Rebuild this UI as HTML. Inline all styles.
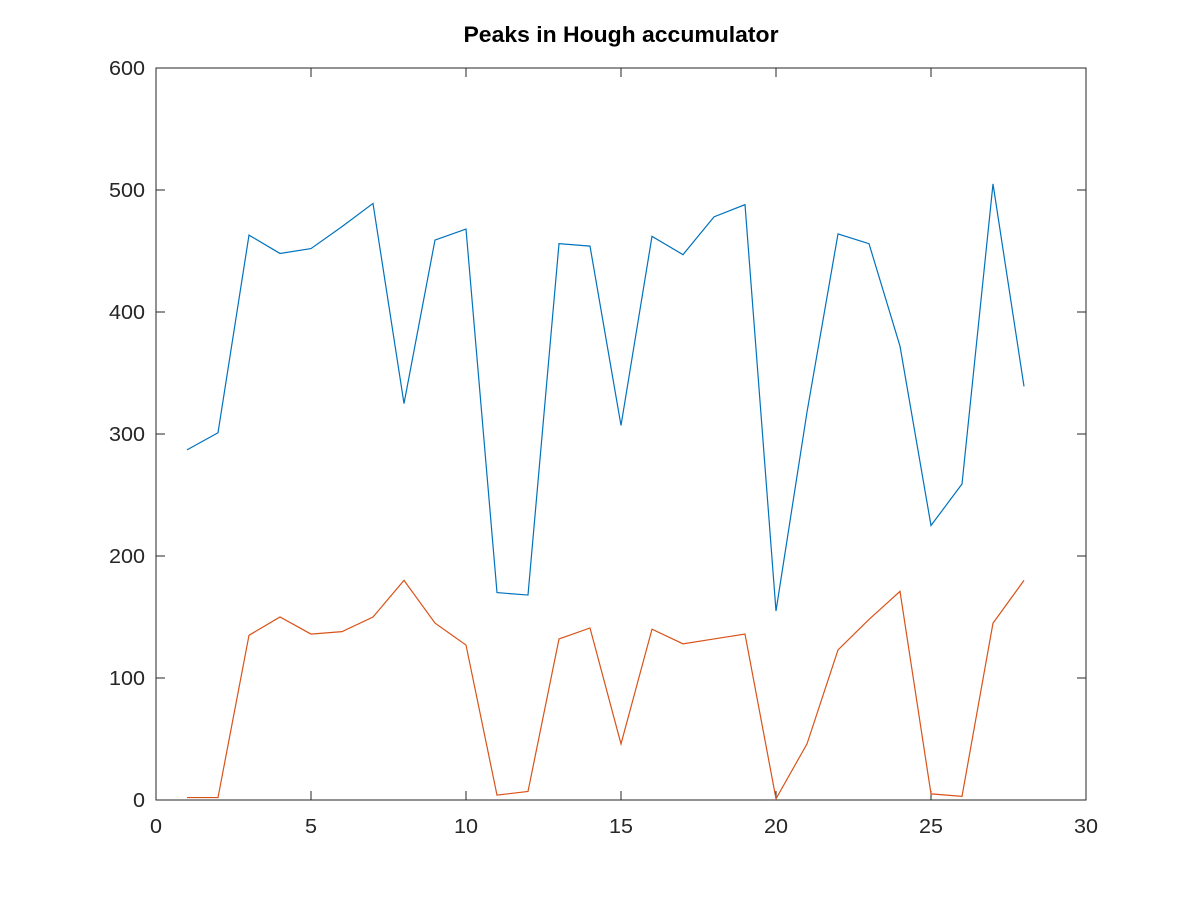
<!DOCTYPE html>
<html><head><meta charset="utf-8"><style>
body{margin:0;background:#fff;font-family:"Liberation Sans",sans-serif;}
</style></head><body>
<svg id="chart" width="1200" height="900" xmlns="http://www.w3.org/2000/svg">
<rect width="1200" height="900" fill="#fff"/>
<text x="621" y="42" text-anchor="middle" font-size="22" font-weight="bold" textLength="315" lengthAdjust="spacingAndGlyphs" font-family="Liberation Sans, sans-serif">Peaks in Hough accumulator</text>
<rect x="156" y="68" width="930" height="732" fill="none" stroke="#262626" stroke-width="1"/>
<g id="axes"></g>
<g id="series"></g>
</svg>
<script>
const xTicks=[0,5,10,15,20,25,30];
const yTicks=[0,100,200,300,400,500,600];
const xIdx=[1,2,3,4,5,6,7,8,9,10,11,12,13,14,15,16,17,18,19,20,21,22,23,24,25,26,27,28];
const seriesBlue=[287,301,463,448,452,470,489,325,459,468,170,168,456,454,307,462,447,478,488,155,318,464,456,372,225,259,505,339];
const seriesRed=[2,2,135,150,136,138,150,180,145,127,4,7,132,141,46,140,128,132,136,1,46,123,148,171,5,3,145,180];
const NS="http://www.w3.org/2000/svg";
const X=v=>156+v*(930/30);
const Y=v=>800-v*(732/600);
const axes=document.getElementById('axes');
function mk(tag,attrs,parent){const e=document.createElementNS(NS,tag);for(const k in attrs)e.setAttribute(k,attrs[k]);parent.appendChild(e);return e;}
xTicks.forEach(t=>{
  const g=mk('g',{},axes);
  
  
  mk('line',{x1:X(t),x2:X(t),y1:800,y2:791,stroke:'#262626'},g);
  mk('line',{x1:X(t),x2:X(t),y1:68,y2:77,stroke:'#262626'},g);
  const s=String(t);
  const tx=mk('text',{x:X(t),y:833,'text-anchor':'middle','font-size':'20',fill:'#262626',textLength:12*s.length,lengthAdjust:'spacingAndGlyphs'},g);
  tx.textContent=s;
});
yTicks.forEach(t=>{
  const g=mk('g',{},axes);
  
  
  mk('line',{x1:156,x2:165,y1:Y(t),y2:Y(t),stroke:'#262626'},g);
  mk('line',{x1:1086,x2:1077,y1:Y(t),y2:Y(t),stroke:'#262626'},g);
  const s=String(t);
  const tx=mk('text',{x:145,y:Y(t)+7,'text-anchor':'end','font-size':'20',fill:'#262626',textLength:12*s.length,lengthAdjust:'spacingAndGlyphs'},g);
  tx.textContent=s;
});
const ser=document.getElementById('series');
[[seriesBlue,'#0072bd','series-blue'],[seriesRed,'#d95319','series-red']].forEach(([d,c,n])=>{
  const p=mk('polyline',{points:d.map((v,i)=>X(xIdx[i])+','+Y(v)).join(' '),fill:'none',stroke:c,'stroke-width':'1.2'},ser);
  
  
});
</script>
</body></html>
